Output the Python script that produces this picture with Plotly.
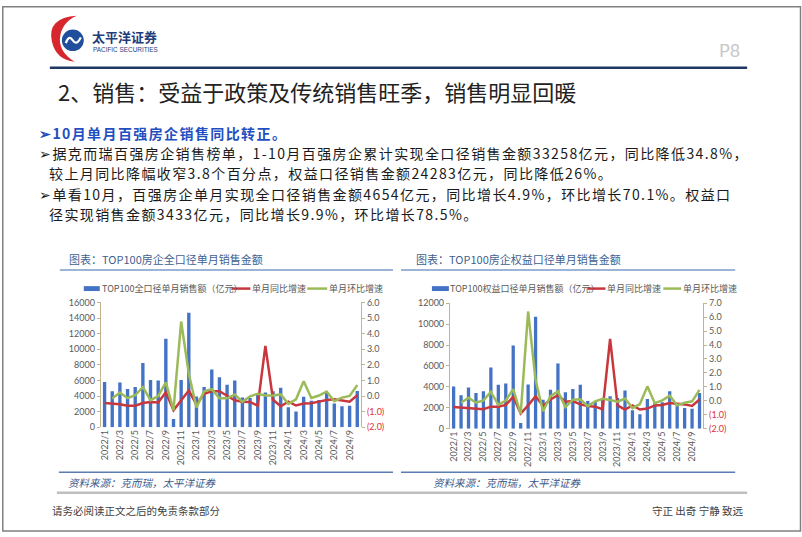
import plotly.graph_objects as go

# ---------------- data ----------------
months = ["2022/1", "2022/2", "2022/3", "2022/4", "2022/5", "2022/6", "2022/7", "2022/8",
          "2022/9", "2022/10", "2022/11", "2022/12", "2023/1", "2023/2", "2023/3", "2023/4",
          "2023/5", "2023/6", "2023/7", "2023/8", "2023/9", "2023/10", "2023/11", "2023/12",
          "2024/1", "2024/2", "2024/3", "2024/4", "2024/5", "2024/6", "2024/7", "2024/8",
          "2024/9", "2024/10"]
tick_months = ["2022/1", "2022/3", "2022/5", "2022/7", "2022/9", "2022/11", "2023/1", "2023/3",
               "2023/5", "2023/7", "2023/9", "2023/11", "2024/1", "2024/3", "2024/5", "2024/7",
               "2024/9"]

# TOP100 full-caliber monthly sales (亿元) and growth rates
total_sales = [5800, 4600, 5750, 4900, 5150, 8250, 6050, 6000, 11350, 1050, 6050, 14700,
               3950, 5150, 7400, 6400, 5450, 6000, 3800, 3750, 4300, 4440, 4600, 5050,
               2550, 2000, 3900, 3400, 3500, 4500, 3050, 2700, 2740, 4650]
total_yoy = [-0.45, -0.47, -0.53, -0.63, -0.62, -0.45, -0.39, -0.41, 0.24, -0.91, -0.30, 0.35,
             -0.55, 0.14, 0.30, 0.31, 0.02, -0.27, -0.37, -0.38, -0.62, 3.22, -0.24, -0.66,
             -0.36, -0.61, -0.48, -0.47, -0.36, -0.25, -0.21, -0.28, -0.36, 0.05]
total_mom = [None, -0.16, 0.22, -0.14, 0.05, 0.58, -0.27, -0.01, 0.88, -0.91, 4.78, 1.43,
             -0.73, 0.30, 0.44, -0.14, -0.15, 0.10, -0.37, -0.02, 0.15, 0.03, 0.03, 0.10,
             -0.50, -0.21, 0.95, -0.13, 0.03, 0.29, -0.33, -0.10, 0.01, 0.70]

# TOP100 equity-caliber monthly sales (亿元) and growth rates
equity_sales = [4050, 3200, 3950, 3430, 3600, 5850, 4200, 4330, 7950, 560, 4230, 10690,
                2770, 3720, 6240, 3490, 3800, 4210, 2650, 2560, 2780, 3120, 2950, 3650,
                1780, 1400, 2850, 2450, 2550, 3600, 2300, 2000, 1920, 3430]
equity_yoy = [-0.43, -0.48, -0.55, -0.60, -0.60, -0.41, -0.41, -0.29, 0.29, -0.90, -0.32, 0.34,
              -0.36, 0.10, 0.41, -0.06, -0.01, -0.25, -0.36, -0.41, -0.60, 4.43, -0.32, -0.62,
              -0.32, -0.62, -0.55, -0.32, -0.29, -0.15, -0.18, -0.25, -0.36, 0.10]
equity_mom = [None, -0.13, 0.23, -0.13, 0.04, 0.64, -0.28, 0.03, 0.84, -0.93, 6.40, 1.50,
              -0.74, 0.34, 0.68, -0.44, 0.09, 0.11, -0.37, -0.03, 0.15, 0.06, -0.06, 0.17,
              -0.51, -0.22, 1.04, -0.16, 0.04, 0.37, -0.32, -0.13, -0.03, 0.79]

left_ticks_total = [0, 2000, 4000, 6000, 8000, 10000, 12000, 14000, 16000]
left_ticks_equity = [0, 2000, 4000, 6000, 8000, 10000, 12000]
rate_ticks_total = [-2, -1, 0, 1, 2, 3, 4, 5, 6]
rate_ticks_equity = [-2, -1, 0, 1, 2, 3, 4, 5, 6, 7]

NEG = "#E0303A"
def rate_label(v):
    if v < 0:
        return "<span style='color:%s'>(%.1f)</span>" % (NEG, abs(v))
    return "%.1f" % v

# ---------------- style ----------------
W, H = 802, 537
BLUE = "#4472C4"
RED = "#C9373E"
GREEN = "#9BBB59"
AXIS = "#C3B48D"
TICKC = "#595959"
CJK = "Noto Sans CJK SC"
NUM = "Lato, Liberation Sans, sans-serif"

def X(x):
    return x / W

def Y(y):
    return 1 - y / H

fig = go.Figure()

# left chart
fig.add_trace(go.Bar(x=months, y=total_sales, xaxis="x", yaxis="y",
                     marker=dict(color=BLUE, line=dict(width=0)), width=0.44, showlegend=False))
fig.add_trace(go.Scatter(x=months, y=total_yoy, xaxis="x", yaxis="y2", mode="lines",
                         line=dict(color=RED, width=2.5), showlegend=False))
fig.add_trace(go.Scatter(x=months, y=total_mom, xaxis="x", yaxis="y2", mode="lines",
                         line=dict(color=GREEN, width=2.5), showlegend=False))
# right chart
fig.add_trace(go.Bar(x=months, y=equity_sales, xaxis="x2", yaxis="y3",
                     marker=dict(color=BLUE, line=dict(width=0)), width=0.44, showlegend=False))
fig.add_trace(go.Scatter(x=months, y=equity_yoy, xaxis="x2", yaxis="y4", mode="lines",
                         line=dict(color=RED, width=2.5), showlegend=False))
fig.add_trace(go.Scatter(x=months, y=equity_mom, xaxis="x2", yaxis="y4", mode="lines",
                         line=dict(color=GREEN, width=2.5), showlegend=False))

tickfont = dict(family=NUM, size=9, color=TICKC)

def xax(dom, anchor):
    return dict(domain=dom, anchor=anchor, type="category", tickmode="array",
                tickvals=tick_months, ticktext=tick_months, tickangle=-90,
                tickfont=tickfont, showline=False, showgrid=False, zeroline=False,
                ticks="", fixedrange=True)

def yleft(dom, anchor, rng, tv):
    return dict(domain=dom, anchor=anchor, range=rng, tickmode="array", tickvals=tv,
                ticktext=[str(v) for v in tv], showgrid=False, zeroline=False,
                showline=True, linecolor=AXIS, linewidth=1, ticks="outside",
                ticklen=3, tickcolor=AXIS, tickfont=tickfont)

def yright(over, anchor, rng, tv):
    return dict(overlaying=over, anchor=anchor, side="right", range=rng, tickmode="array",
                tickvals=tv, ticktext=[rate_label(v) for v in tv], showgrid=False,
                zeroline=False, showline=True, linecolor=AXIS, linewidth=1,
                ticks="outside", ticklen=3, tickcolor=AXIS, tickfont=tickfont)

fig.update_layout(
    width=W, height=H, autosize=False,
    margin=dict(l=0, r=0, t=0, b=0),
    paper_bgcolor="white", plot_bgcolor="rgba(0,0,0,0)",
    xaxis=xax([X(99), X(360)], "y"),
    yaxis=yleft([Y(430), Y(302.7)], "x", [0, 16000], left_ticks_total),
    yaxis2=yright("y", "x", [-2, 6], rate_ticks_total),
    xaxis2=xax([X(449), X(703)], "y3"),
    yaxis3=yleft([Y(431.7), Y(303.3)], "x2", [0, 12000], left_ticks_equity),
    yaxis4=yright("y3", "x2", [-2, 7], rate_ticks_equity),
)

shapes = []
def hline(x0, x1, y, color, width):
    shapes.append(dict(type="line", xref="paper", yref="paper", x0=X(x0), x1=X(x1),
                       y0=Y(y), y1=Y(y), line=dict(color=color, width=width)))

# frame
shapes.append(dict(type="rect", xref="paper", yref="paper", x0=X(0.8), x1=X(800.5),
                   y0=Y(536), y1=Y(0.8), line=dict(color="#808080", width=1.5)))
# header line
hline(48, 747, 63, "#1F3864", 2.5)
# chart title underlines
hline(58, 392, 269.5, "#7B9BC8", 1.3)
hline(400, 735, 269.5, "#7B9BC8", 1.3)
# source lines
hline(57, 392, 476, "#5B7DB1", 1.5)
hline(400, 735, 476, "#5B7DB1", 1.5)
# footer gray line
hline(55, 747, 497, "#BFBFBF", 2.5)

# legends
def legend(yc, items):
    for kind, x0, x1, color in items:
        if kind == "bar":
            shapes.append(dict(type="rect", xref="paper", yref="paper", x0=X(x0), x1=X(x1),
                               y0=Y(yc + 2.5), y1=Y(yc - 2.5), fillcolor=color,
                               line=dict(width=0)))
        else:
            shapes.append(dict(type="line", xref="paper", yref="paper", x0=X(x0), x1=X(x1),
                               y0=Y(yc), y1=Y(yc), line=dict(color=color, width=2.5)))

legend(288.5, [("bar", 82, 98, BLUE), ("line", 230, 249, RED), ("line", 306, 326, GREEN)])
legend(288.5, [("bar", 431, 448, BLUE), ("line", 587, 605, RED), ("line", 663, 681, GREEN)])

# logo
def P(x, y):
    return "%.5f,%.5f" % (X(x), Y(y))

crescent = ("M " + P(75, 10) + " Q " + P(45, 12) + " " + P(50, 36) +
            " Q " + P(54, 55) + " " + P(73, 57) + " Q " + P(58, 48) + " " + P(58, 34) +
            " Q " + P(59, 17) + " " + P(75, 10) + " Z")
shapes.append(dict(type="path", xref="paper", yref="paper", path=crescent,
                   fillcolor="#D7262E", line=dict(width=0)))
shapes.append(dict(type="circle", xref="paper", yref="paper", x0=X(60), x1=X(82),
                   y0=Y(46), y1=Y(24), fillcolor="#1F4E9C", line=dict(width=0)))
wave = ("M " + P(64, 38) + " Q " + P(67, 29) + " " + P(71, 35) + " Q " + P(75, 41) +
        " " + P(79, 32))
shapes.append(dict(type="path", xref="paper", yref="paper", path=wave,
                   line=dict(color="white", width=2.2)))

fig.update_layout(shapes=shapes)

ann = []
def text(x, y, s, size, color="#1A1A1A", family=CJK, anchor="left", style="normal"):
    ann.append(dict(x=X(x), y=Y(y), xref="paper", yref="paper", text=s, showarrow=False,
                    xanchor=anchor, yanchor="middle", borderpad=0, align="left",
                    font=dict(family=family, size=size, color=color, style=style)))

# header
text(89, 31.5, "<b>太平洋证券</b>", 13, color="#1F3D7A")
text(90, 44, "PACIFIC SECURITIES", 6.4, color="#1F3D7A", family="Liberation Sans")
text(741, 45, "P8", 18, color="#C8C8C8", family="Lato, Liberation Sans", anchor="right")
text(55, 87, "2、销售：受益于政策及传统销售旺季，销售明显回暖", 22, color="#222222")

# bullets
BS = 14
def sp(s):
    return "<span style='letter-spacing:1.4px'>" + s + "</span>"
text(36, 130, "<span style='color:#1F4FC0'><b>" + sp("➢10月单月百强房企销售同比转正。") + "</b></span>", BS)
text(36, 150.5, sp("➢据克而瑞百强房企销售榜单，1-10月百强房企累计实现全口径销售金额33258亿元，同比降低34.8%，"), BS)
text(46, 171, sp("较上月同比降幅收窄3.8个百分点，权益口径销售金额24283亿元，同比降低26%。"), BS)
text(36, 191.5, sp("➢单看10月，百强房企单月实现全口径销售金额4654亿元，同比增长4.9%，环比增长70.1%。权益口"), BS)
text(46, 212, sp("径实现销售金额3433亿元，同比增长9.9%，环比增长78.5%。"), BS)

# chart titles
text(66, 258, "图表：TOP100房企全口径单月销售金额", 11, color="#3F5F8F")
text(414, 258, "图表：TOP100房企权益口径单月销售金额", 11, color="#3F5F8F")

# legend texts
LG = "#595959"
text(99, 288.5, "TOP100全口径单月销售额（亿元）", 9, color=LG)
text(250, 288.5, "单月同比增速", 9, color=LG)
text(327, 288.5, "单月环比增速", 9, color=LG)
text(448, 288.5, "TOP100权益口径单月销售额（亿元）", 9, color=LG)
text(606, 288.5, "单月同比增速", 9, color=LG)
text(682, 288.5, "单月环比增速", 9, color=LG)

# sources
text(65, 486, "资料来源：克而瑞，太平洋证券", 10.5, color="#3C5A8A", style="italic")
text(431, 486, "资料来源：克而瑞，太平洋证券", 10.5, color="#3C5A8A", style="italic")

# footer
text(49, 515, "请务必阅读正文之后的免责条款部分", 10.5, color="#404040")
text(745, 515, "守正 出奇 宁静 致远", 10.5, color="#404040", anchor="right")

fig.update_layout(annotations=ann)

fig.write_html("out.html", config={"displayModeBar": False},
               post_script="document.body.style.margin='0';document.body.style.overflow='hidden';")
